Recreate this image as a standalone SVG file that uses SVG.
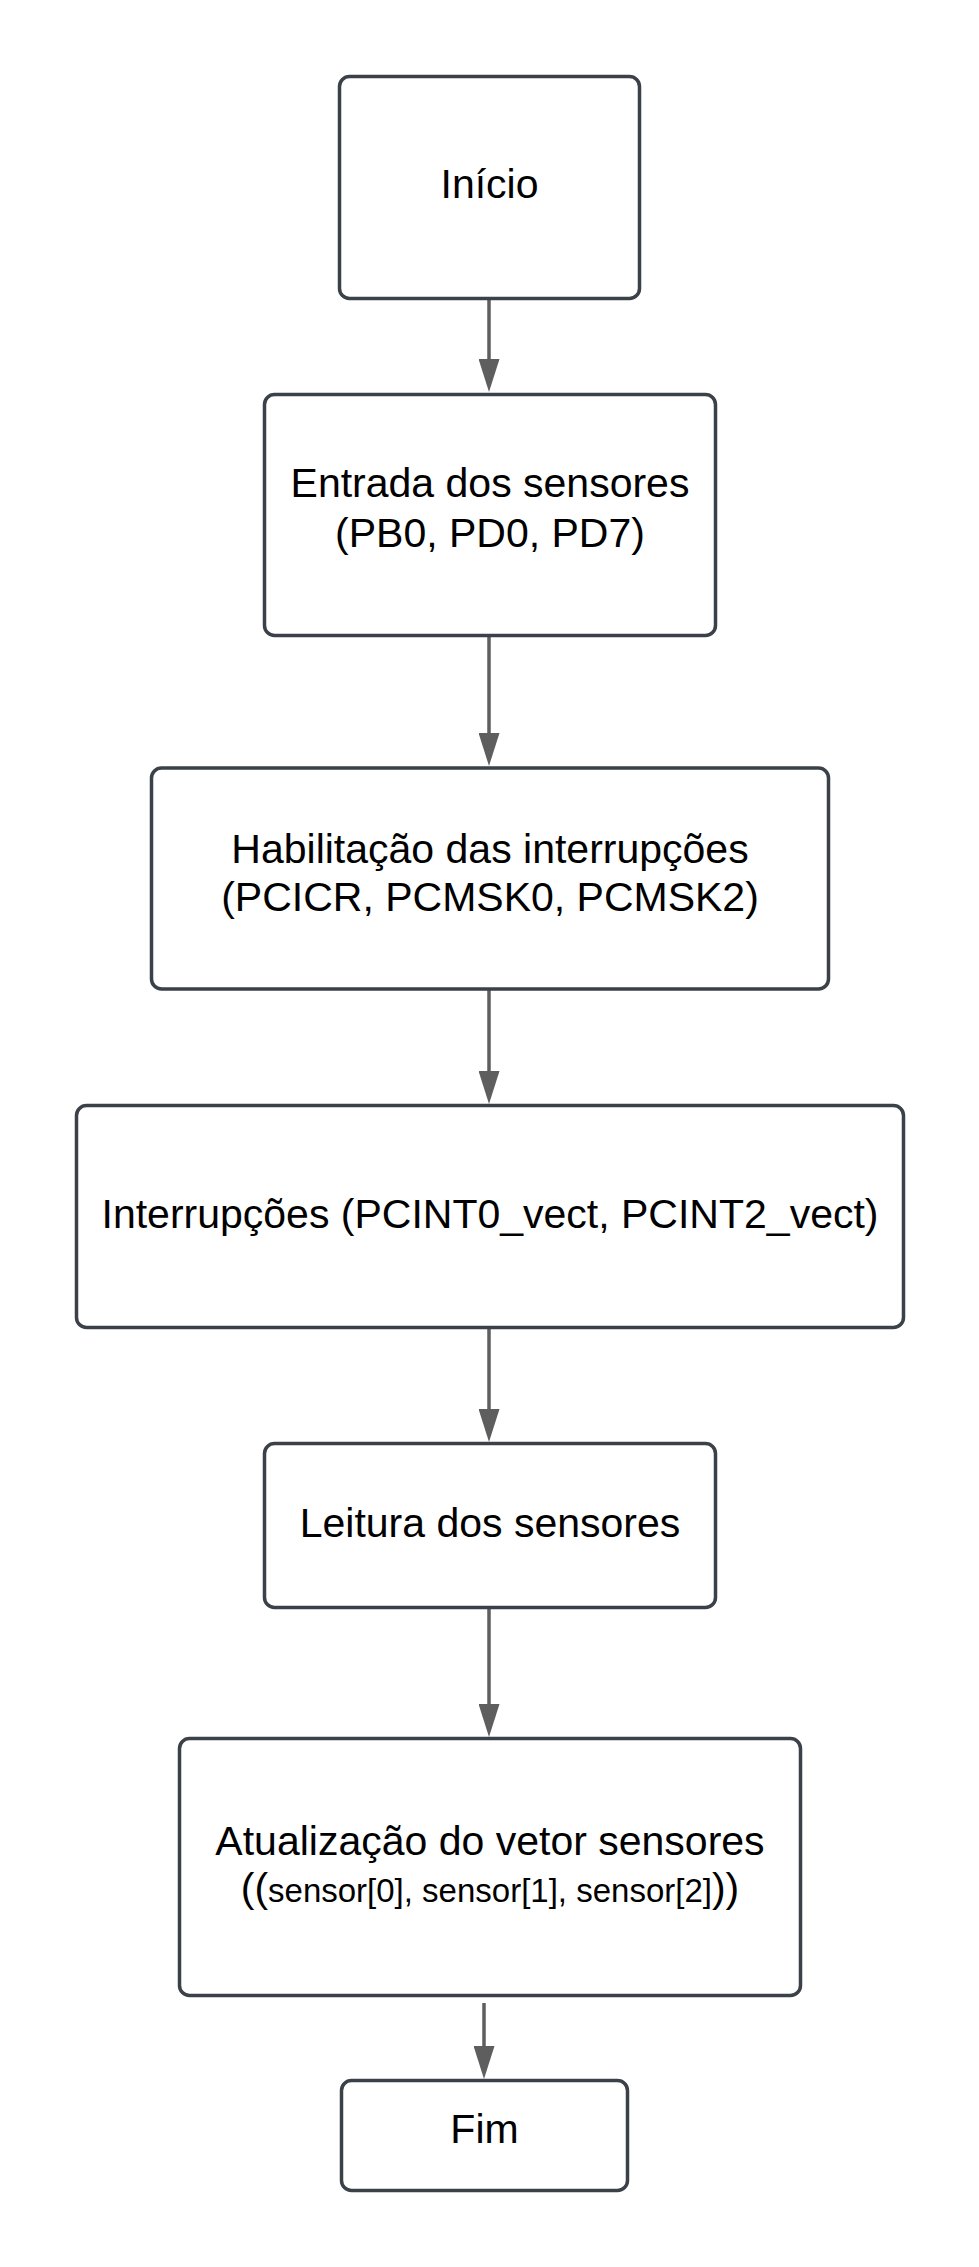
<svg xmlns="http://www.w3.org/2000/svg" width="979" height="2267" viewBox="0 0 979 2267">
<style>
.box{fill:#ffffff;stroke:#3b4149;stroke-width:3.5;}
.t{font-family:"Liberation Sans",Arial,sans-serif;font-size:41px;fill:#000000;text-anchor:middle;}
.c{stroke:#5e5e5e;stroke-width:3.5;fill:none;}
</style>
<defs>
<marker id="ah" viewBox="0 0 33 21" refX="0" refY="10.5" markerWidth="33" markerHeight="21" markerUnits="userSpaceOnUse" orient="auto">
<path d="M0,0 L33,10.5 L0,21 Z" fill="#5e5e5e"/>
</marker>
</defs>
<rect width="979" height="2267" fill="#ffffff"/>
<g id="connectors">
<path class="c" d="M489,300 V359" marker-end="url(#ah)"/>
<path class="c" d="M489,637 V733" marker-end="url(#ah)"/>
<path class="c" d="M489,990 V1071" marker-end="url(#ah)"/>
<path class="c" d="M489,1329 V1409" marker-end="url(#ah)"/>
<path class="c" d="M489,1609 V1704" marker-end="url(#ah)"/>
<path class="c" d="M484,2003 V2046" marker-end="url(#ah)"/>
</g>
<g id="inicio">
<rect class="box" x="339.5" y="76.5" width="300" height="222" rx="10"/>
<text class="t" x="489.5" y="198">Início</text>
</g>
<g id="entrada">
<rect class="box" x="264.5" y="394.5" width="451" height="241" rx="10"/>
<text class="t" x="490" y="497">Entrada dos sensores</text>
<text class="t" x="490" y="547">(PB0, PD0, PD7)</text>
</g>
<g id="habilitacao">
<rect class="box" x="151.5" y="768" width="677" height="221" rx="10"/>
<text class="t" x="490" y="863">Habilitação das interrupções</text>
<text class="t" x="490" y="911">(PCICR, PCMSK0, PCMSK2)</text>
</g>
<g id="interrupcoes">
<rect class="box" x="76.5" y="1105.5" width="827" height="222" rx="10"/>
<text class="t" x="490" y="1228">Interrupções (PCINT0_vect, PCINT2_vect)</text>
</g>
<g id="leitura">
<rect class="box" x="264.5" y="1443.5" width="451" height="164" rx="10"/>
<text class="t" x="490" y="1537">Leitura dos sensores</text>
</g>
<g id="atualizacao">
<rect class="box" x="179.5" y="1738.5" width="621" height="257" rx="10"/>
<text class="t" x="490" y="1855">Atualização do vetor sensores</text>
<text class="t" x="490" y="1902">((<tspan font-size="33">sensor[0], sensor[1], sensor[2]</tspan>))</text>
</g>
<g id="fim">
<rect class="box" x="341.5" y="2080.5" width="286" height="110" rx="10"/>
<text class="t" x="484.5" y="2143">Fim</text>
</g>
</svg>
